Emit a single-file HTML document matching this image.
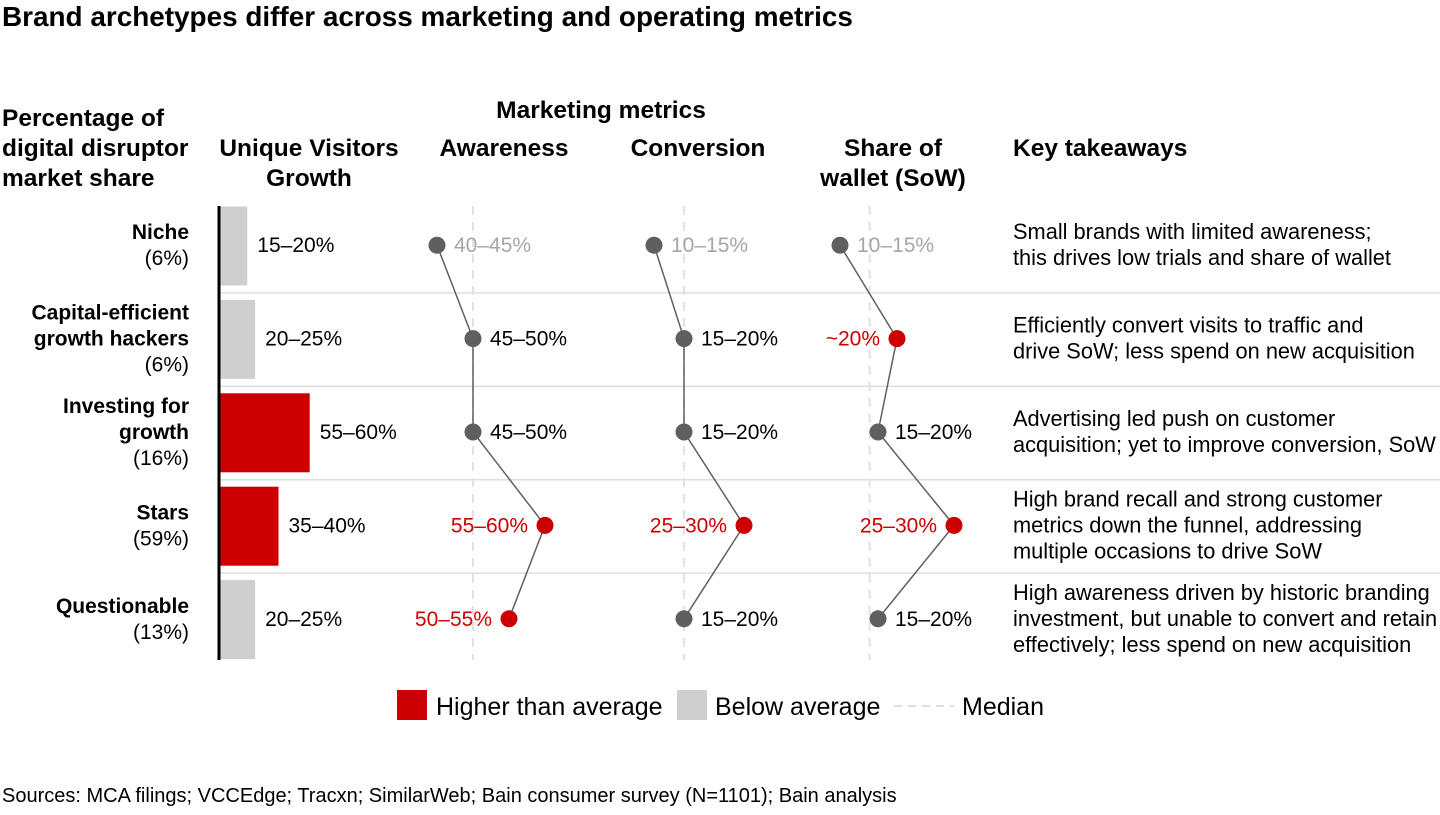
<!DOCTYPE html>
<html><head><meta charset="utf-8"><style>
body{margin:0;background:#fff;font-family:"Liberation Sans",Arial,sans-serif;}
svg text{font-family:"Liberation Sans",Arial,sans-serif;}
</style></head><body>
<svg id="chart" width="1440" height="810" viewBox="0 0 1440 810" xmlns="http://www.w3.org/2000/svg">
<text x="2" y="26" font-size="27.9" font-weight="bold" fill="#000">Brand archetypes differ across marketing and operating metrics</text>
<g font-size="24.5" font-weight="bold" fill="#000">
<text x="2" y="126"><tspan x="2">Percentage of</tspan><tspan x="2" dy="30">digital disruptor</tspan><tspan x="2" dy="30">market share</tspan></text>
<text x="601" y="118" text-anchor="middle">Marketing metrics</text>
<text x="309" y="156" text-anchor="middle"><tspan x="309">Unique Visitors</tspan><tspan x="309" dy="30">Growth</tspan></text>
<text x="504" y="156" text-anchor="middle">Awareness</text>
<text x="698" y="156" text-anchor="middle">Conversion</text>
<text x="893" y="156" text-anchor="middle"><tspan x="893">Share of</tspan><tspan x="893" dy="30">wallet (SoW)</tspan></text>
<text x="1013" y="156">Key takeaways</text>
</g>
<g id="plot"></g>
<g font-size="25" fill="#000">
<rect x="397" y="690" width="30" height="30" fill="#cc0000"/>
<text x="436" y="715">Higher than average</text>
<rect x="677" y="690" width="30" height="30" fill="#cfcfcf"/>
<text x="715" y="715">Below average</text>
<line x1="894" y1="706" x2="954" y2="706" stroke="#e0e0e0" stroke-width="2" stroke-dasharray="8,6"/>
<text x="962" y="715">Median</text>
</g>
<text x="2" y="802" font-size="20" fill="#000">Sources: MCA filings; VCCEdge; Tracxn; SimilarWeb; Bain consumer survey (N=1101); Bain analysis</text>
</svg>
<script>
const categories = ["Niche", "Capital-efficient growth hackers", "Investing for growth", "Stars", "Questionable"];
const shareLabels = ["(6%)", "(6%)", "(16%)", "(59%)", "(13%)"];
const uvGrowth = [17.5, 22.5, 57.5, 37.5, 22.5];
const uvLabels = ["15–20%", "20–25%", "55–60%", "35–40%", "20–25%"];
const uvHigh = [false, false, true, true, false];
const awareness = [42.5, 47.5, 47.5, 57.5, 52.5];
const awarenessLabels = ["40–45%", "45–50%", "45–50%", "55–60%", "50–55%"];
const conversion = [12.5, 17.5, 17.5, 27.5, 17.5];
const conversionLabels = ["10–15%", "15–20%", "15–20%", "25–30%", "15–20%"];
const sow = [12.5, 20, 17.5, 27.5, 17.5];
const sowLabels = ["10–15%", "~20%", "15–20%", "25–30%", "15–20%"];
const highFlags = {
  awareness: [false, false, false, true, true],
  conversion: [false, false, false, true, false],
  sow: [false, true, false, true, false]
};
const takeaways = [
  ["Small brands with limited awareness;", "this drives low trials and share of wallet"],
  ["Efficiently convert visits to traffic and", "drive SoW; less spend on new acquisition"],
  ["Advertising led push on customer", "acquisition; yet to improve conversion, SoW"],
  ["High brand recall and strong customer", "metrics down the funnel, addressing", "multiple occasions to drive SoW"],
  ["High awareness driven by historic branding", "investment, but unable to convert and retain", "effectively; less spend on new acquisition"]
];

const NS = "http://www.w3.org/2000/svg";
const plot = document.getElementById("plot");
function mk(tag, attrs, parent) {
  const e = document.createElementNS(NS, tag);
  for (const k in attrs) e.setAttribute(k, attrs[k]);
  (parent || plot).appendChild(e);
  return e;
}
const top0 = 199.5, rowH = 93.4;
const rowY = i => top0 + rowH * i + rowH / 2 - 1;
const barX = v => 220 + v * 1.56;
const awX = v => 473 + (v - 47.5) * 7.2;
const cvX = v => 684 + (v - 17.5) * 6.0;
const swX = v => 878 + (v - 17.5) * 7.6;
const RED = "#cc0000", GREY = "#5f5f5f";
const FS = 21;

for (let i = 1; i < categories.length; i++) {
  const l = mk("line", {x1: 220, x2: 1440, y1: top0 + rowH * i, y2: top0 + rowH * i, stroke: "#dedede", "stroke-width": 1.5});
  
  
}
[[awX, 47.5], [cvX, 17.5], [swX, 16.4]].forEach(([f, m]) => {
  const l = mk("line", {x1: f(m), x2: f(m), y1: 206, y2: 660, stroke: "#e2e2e2", "stroke-width": 2, "stroke-dasharray": "9,7"});
  
  
});

categories.forEach((c, i) => {
  const y = rowY(i);
  const words = c === "Capital-efficient growth hackers" ? ["Capital-efficient", "growth hackers"] : c === "Investing for growth" ? ["Investing for", "growth"] : [c];
  const n = words.length + 1;
  const t = mk("text", {x: 189, y: y - (n - 1) * 13 + 7, "font-size": FS, "text-anchor": "end", fill: "#000"});
  
  
  words.forEach((w, k) => {
    const ts = mk("tspan", {x: 189, dy: k === 0 ? 0 : 26, "font-weight": "bold"}, t);
    ts.textContent = w;
  });
  const ts2 = mk("tspan", {x: 189, dy: 26}, t);
  ts2.textContent = shareLabels[i];

  const b = mk("rect", {x: 220, y: top0 + rowH * i + 7, width: barX(uvGrowth[i]) - 220, height: 79, fill: uvHigh[i] ? RED : "#cfcfcf"});
  
  
  const bl = mk("text", {x: barX(uvGrowth[i]) + 10, y: y + 7, "font-size": FS, fill: "#000"});
  
  
  bl.textContent = uvLabels[i];

  const tk = mk("text", {x: 1013, y: y - (takeaways[i].length - 1) * 13 + 7, "font-size": 21.8, fill: "#000"});
  
  
  takeaways[i].forEach((ln, k) => {
    const s = mk("tspan", {x: 1013, dy: k === 0 ? 0 : 26}, tk);
    s.textContent = ln;
  });
});

const axisLine = mk("line", {x1: 219, x2: 219, y1: 206, y2: 660, stroke: "#000", "stroke-width": 3});



function series(vals, labels, high, fx, name) {
  const pts = vals.map((v, i) => fx(v) + "," + rowY(i)).join(" ");
  const pl = mk("polyline", {points: pts, fill: "none", stroke: "#606060", "stroke-width": 1.5});
  
  
  vals.forEach((v, i) => {
    const x = fx(v), y = rowY(i);
    const c = mk("circle", {cx: x, cy: y, r: 8.5, fill: high[i] ? RED : GREY});
    
    
    const t = mk("text", {x: high[i] ? x - 17 : x + 17, y: y + 7, "font-size": FS, "text-anchor": high[i] ? "end" : "start", fill: high[i] ? RED : (i === 0 ? "#a6a6a6" : "#000")});
    
    
    t.textContent = labels[i];
  });
}
series(awareness, awarenessLabels, highFlags.awareness, awX, "awareness");
series(conversion, conversionLabels, highFlags.conversion, cvX, "conversion");
series(sow, sowLabels, highFlags.sow, swX, "sow");
</script>
</body></html>
